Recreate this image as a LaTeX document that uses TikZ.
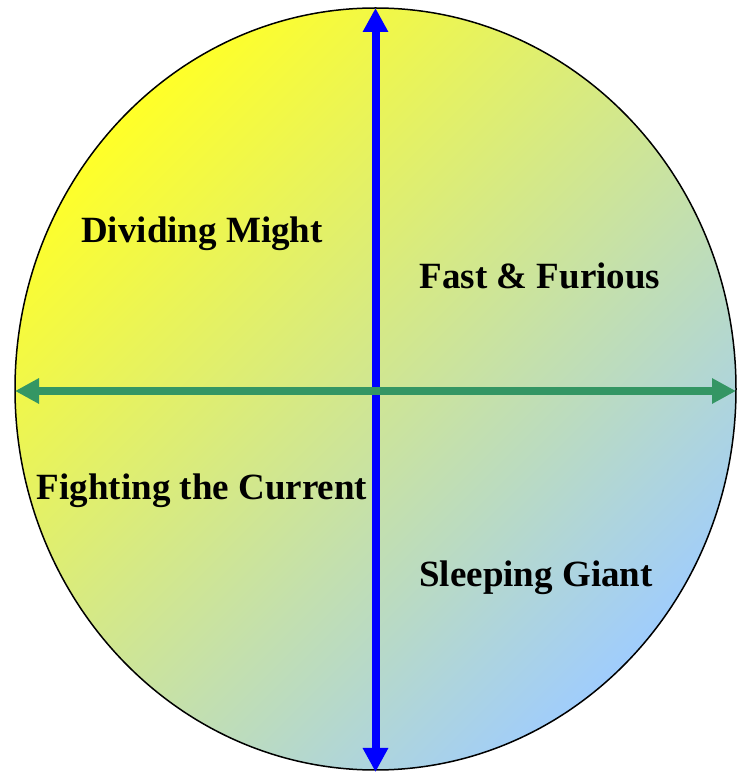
\documentclass[tikz,border=0pt]{standalone}
\usepackage{fontspec}
\setmainfont{Liberation Serif}
\usetikzlibrary{arrows.meta}
\definecolor{ylw}{RGB}{255,255,40}
\definecolor{lblue}{RGB}{160,205,252}
\definecolor{arrgreen}{RGB}{52,150,100}
\tikzset{
  lbl/.style={font=\fontsize{37}{40}\selectfont\bfseries, text=black, inner sep=0pt},
  dblarrow/.style={line width=8pt, {Triangle[length=24pt,width=24pt]}-{Triangle[length=24pt,width=24pt]}}
}
\begin{document}
\begin{tikzpicture}[x=1pt,y=1pt]
\useasboundingbox (0,0) rectangle (741,772);
\shade[top color=ylw, bottom color=lblue, shading angle=45, draw=black, line width=1.5pt]
  (375.5,383) ellipse [x radius=360.5, y radius=381];
\coordinate (top) at (375.5,764);
\coordinate (bot) at (375.5,0);
\coordinate (lft) at (15,381);
\coordinate (rgt) at (736,381);
\draw[dblarrow, draw=blue, fill=blue] (bot) -- (top);
\draw[dblarrow, draw=arrgreen, fill=arrgreen] (lft) -- (rgt);
\node[lbl] (dm) at (202,538) {Dividing Might};
\node[lbl] (ff) at (540,496) {Fast \& Furious};
\node[lbl] (fc) at (202,281) {Fighting the Current};
\node[lbl] (sg) at (536,194) {Sleeping Giant};
\end{tikzpicture}
\end{document}
